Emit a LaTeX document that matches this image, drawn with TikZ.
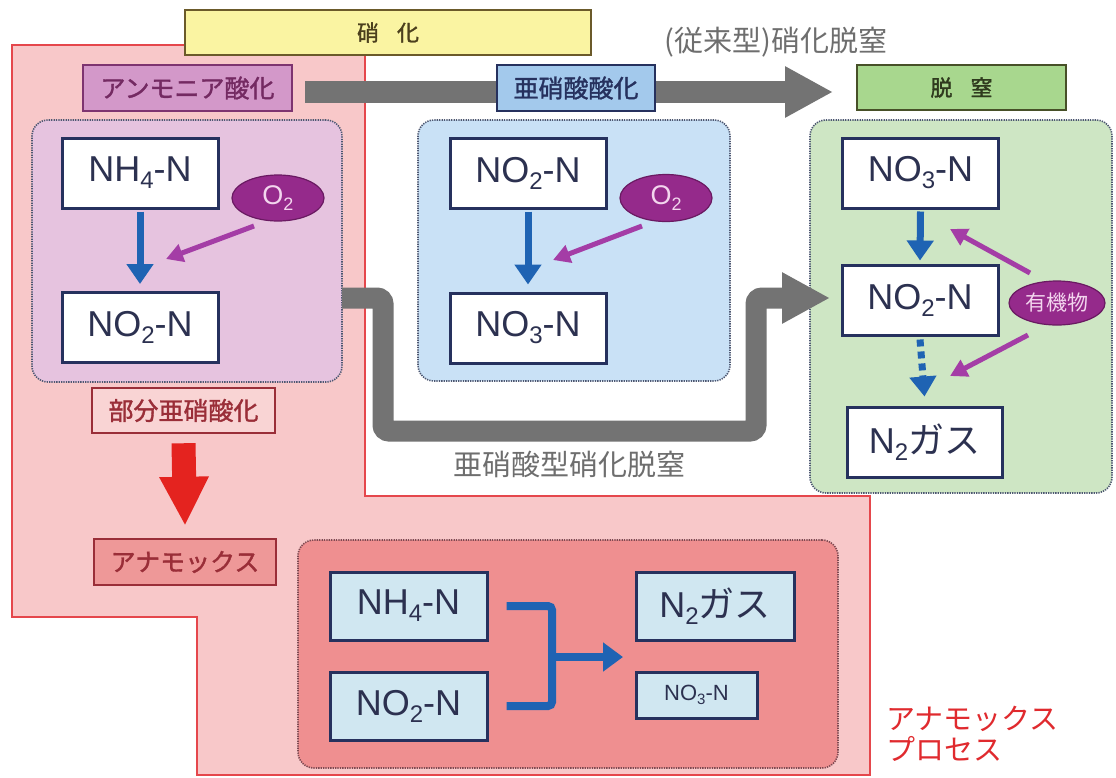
\documentclass[tikz,border=0pt]{standalone}
\usepackage{fontspec}
\setmainfont{Liberation Sans}
\newfontfamily\jp{Noto Sans CJK JP}
\newfontfamily\jpb[FakeBold=1.4]{Noto Sans CJK JP}
\usetikzlibrary{arrows.meta,shapes.geometric}
\definecolor{pinkbg}{HTML}{F8C8C9}
\definecolor{pinkline}{HTML}{E5474C}
\definecolor{yel}{HTML}{FAF4A2}
\definecolor{yelline}{HTML}{6B5A2A}
\definecolor{purpfill}{HTML}{E6C3DF}
\definecolor{purplab}{HTML}{D398C9}
\definecolor{purpline}{HTML}{7E3470}
\definecolor{purptext}{HTML}{742A62}
\definecolor{bluefill}{HTML}{C9E1F6}
\definecolor{bluelab}{HTML}{A3C9EC}
\definecolor{navy}{HTML}{26315E}
\definecolor{greenfill}{HTML}{CEE6C4}
\definecolor{greenlab}{HTML}{A8D78E}
\definecolor{greenline}{HTML}{475028}
\definecolor{greentext}{HTML}{2F3A1E}
\definecolor{anamfill}{HTML}{EF8F90}
\definecolor{anamlabfill}{HTML}{EE9898}
\definecolor{darkred}{HTML}{9A2E38}
\definecolor{anamdot}{HTML}{7E4A52}
\definecolor{bubunfill}{HTML}{F9D4D4}
\definecolor{boxtext}{HTML}{2C3150}
\definecolor{chemblue}{HTML}{D0E7F1}
\definecolor{dotline}{HTML}{4E5872}
\definecolor{arrblue}{HTML}{1F63B3}
\definecolor{arrpurp}{HTML}{A43DA6}
\definecolor{blobfill}{HTML}{952A8B}
\definecolor{blobline}{HTML}{6A1A62}
\definecolor{blobtext}{HTML}{F3D6EE}
\definecolor{arrgray}{HTML}{737373}
\definecolor{txtgray}{HTML}{6E6E6E}
\definecolor{arrred}{HTML}{E4231F}
\definecolor{procred}{HTML}{E02A2E}
\newcommand\sbs[3]{\raisebox{-#2pt}{\fontsize{#1}{#1}\selectfont #3}}
\begin{document}
\begin{tikzpicture}[x=1pt,y=-1pt,
 region/.style={draw=dotline, line width=1.6pt, dash pattern=on 1.3pt off 1.1pt, rounded corners=16pt, inner sep=0pt},
 chem/.style={draw=navy, line width=3pt, fill=white, text=boxtext, minimum width=156pt, minimum height=70pt, inner sep=0pt, font=\fontsize{36}{40}\selectfont},
 lab/.style={line width=2.5pt, minimum height=46pt, inner sep=0pt, font=\jpb\fontsize{25}{28}\selectfont},
 blob/.style={ellipse, draw=blobline, line width=1.2pt, fill=blobfill, inner sep=0pt, text=blobtext},
 bluearr/.style={draw=arrblue, line width=7pt, -{Triangle[width=26pt,length=20pt]}},
 purparr/.style={draw=arrpurp, line width=5pt, -{Triangle[width=18pt,length=17pt]}},
 grayarr/.style={draw=arrgray, line width=22pt, -{Triangle[width=48pt,length=48pt]}},
 note/.style={text=txtgray, font=\jp\fontsize{29}{31}\selectfont, inner sep=0pt}
]
\useasboundingbox (0,0) rectangle (1116,777);
\fill[white] (0,0) rectangle (1116,777);

% anammox process region
\draw[fill=pinkbg, draw=pinkline, line width=2.5pt]
  (12,45) -- (365,45) -- (365,496) -- (870,496) -- (870,775) -- (197,775) -- (197,617) -- (12,617) -- cycle;

% header
\node[lab, draw=yelline, fill=yel, minimum width=406pt, minimum height=45pt, text=yelline!70!black, font=\jpb\fontsize{22}{24}\selectfont] (nitri) at (388,32.5) {硝\hspace{18pt}化};

% regions
\node[region, fill=purpfill, minimum width=310pt, minimum height=262pt] (purpreg) at (187,251) {};
\node[region, fill=bluefill, minimum width=312pt, minimum height=261pt] (bluereg) at (574,250.5) {};
\node[region, fill=greenfill, minimum width=302pt, minimum height=373pt] (greenreg) at (961,306.5) {};
\node[region, draw=anamdot, fill=anamfill, minimum width=540pt, minimum height=228pt] (anamreg) at (568,654) {};

% gray arrows
\coordinate (convs) at (305,92);
\coordinate (convt) at (833,92);
\draw[grayarr] (convs) -- (convt);
\coordinate (us) at (342,298);
\coordinate (ut) at (830,298);
\draw[grayarr, line width=21pt, rounded corners=6pt] (us) -- (383,298) -- (383,431) -- (756,431) -- (756,298) -- (ut);

% labels
\node[lab, draw=purpline, fill=purplab, text=purptext, minimum width=209pt] (ammlab) at (187.5,88) {アンモニア酸化};
\node[lab, draw=navy, fill=bluelab, text=navy, minimum width=158pt] (nitlab) at (576,88) {亜硝酸酸化};
\node[lab, draw=greenline, fill=greenlab, text=greentext, minimum width=209pt, minimum height=45pt, font=\jpb\fontsize{22}{24}\selectfont] (denlab) at (961.5,87.5) {脱\hspace{18pt}窒};
\node[lab, draw=darkred, fill=bubunfill, text=darkred, minimum width=183pt, minimum height=45pt] (bubun) at (183.5,410.5) {部分亜硝酸化};
\node[lab, draw=darkred, fill=anamlabfill, text=darkred, minimum width=182pt] (anamlab) at (185,562) {アナモックス};

% chemical boxes
\node[chem] (nh4a) at (140,173) {NH\sbs{24}{7}{4}-N};
\node[chem] (no2a) at (140,327.5) {NO\sbs{24}{7}{2}-N};
\node[chem] (no2b) at (528,173) {NO\sbs{24}{7}{2}-N};
\node[chem] (no3b) at (528,328) {NO\sbs{24}{7}{3}-N};
\node[chem] (no3c) at (920.5,173) {NO\sbs{24}{7}{3}-N};
\node[chem] (no2c) at (920,300) {NO\sbs{24}{7}{2}-N};
\node[chem, minimum width=155pt] (n2c) at (924.5,442) {N\sbs{24}{7}{2}{\jp ガス}};
\node[chem, fill=chemblue, minimum width=157pt, minimum height=68pt] (nh4d) at (408.5,606) {NH\sbs{24}{7}{4}-N};
\node[chem, fill=chemblue, minimum width=157pt, minimum height=68pt] (no2d) at (408.5,706) {NO\sbs{24}{7}{2}-N};
\node[chem, fill=chemblue, minimum width=158pt, minimum height=68pt] (n2d) at (715,606) {N\sbs{24}{7}{2}{\jp ガス}};
\node[chem, fill=chemblue, minimum width=121pt, minimum height=46pt, font=\fontsize{22}{24}\selectfont] (no3d) at (696.5,695) {NO\sbs{15}{4.5}{3}-N};

% ellipses
\node[blob, minimum width=92pt, minimum height=46pt, font=\fontsize{27}{29}\selectfont] (o2a) at (278,198) {O\sbs{18}{5.5}{2}};
\node[blob, minimum width=92pt, minimum height=47pt, font=\fontsize{27}{29}\selectfont] (o2b) at (666,198) {O\sbs{18}{5.5}{2}};
\node[blob, minimum width=96pt, minimum height=44pt, font=\jp\fontsize{21}{23}\selectfont] (org) at (1057,303) {有機物};

% blue arrows
\draw[bluearr] ([yshift=-2pt]nh4a.south) -- ([yshift=7pt]no2a.north);
\draw[bluearr] ([yshift=-2pt]no2b.south) -- ([yshift=7pt]no3b.north);
\draw[bluearr] ([yshift=-2pt]no3c.south) -- ([yshift=3pt]no2c.north);
\draw[bluearr, dash pattern=on 7pt off 5pt] ([yshift=-3pt]no2c.south) -- ([yshift=9pt]n2c.north);

% purple arrows
\coordinate (o2as) at (254,226);
\coordinate (o2at) at (166,259);
\draw[purparr] (o2as) -- (o2at);
\coordinate (o2bs) at (642,226);
\coordinate (o2bt) at (553,260);
\draw[purparr] (o2bs) -- (o2bt);
\coordinate (orgs1) at (1030,273);
\coordinate (orgt1) at (950,229);
\draw[purparr] (orgs1) -- (orgt1);
\coordinate (orgs2) at (1028,335);
\coordinate (orgt2) at (950,376);
\draw[purparr] (orgs2) -- (orgt2);

% red arrow
\draw[draw=arrred, line width=24pt, -{Triangle[width=46pt,length=49pt]}] ([yshift=-9pt]bubun.south) -- ([yshift=12pt]anamlab.north);

% anammox bracket
\draw[draw=arrblue, line width=8pt, rounded corners=4pt] ([xshift=18pt]nh4d.east) -- (552,606) -- (552,706) -- ([xshift=18pt]no2d.east);
\coordinate (brk) at (552,657);
\coordinate (brkt) at (623,657);
\draw[draw=arrblue, line width=8pt, -{Triangle[width=28pt,length=20pt]}] (brk) -- (brkt);

% texts
\node[note] (convtxt) at (776,42) {(従来型)硝化脱窒};
\node[note] (nitrtxt) at (569,464) {亜硝酸型硝化脱窒};
\node[text=procred, font=\jp\fontsize{29}{31}\selectfont, align=left, anchor=west, inner sep=0pt] (proc) at (886,734) {アナモックス\\プロセス};
\end{tikzpicture}
\end{document}
